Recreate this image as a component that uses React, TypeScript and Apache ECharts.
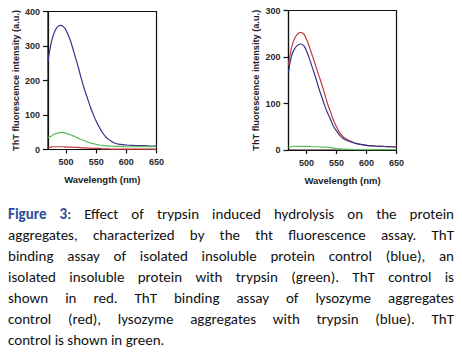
import React, { useEffect, useRef } from "react";
import * as echarts from "echarts";

const wavelengths = [470, 475, 480, 485, 490, 495, 500, 505, 510, 515, 520, 525, 530, 535, 540, 545, 550, 555, 560, 565, 570, 575, 580, 590, 600, 610, 620, 630, 640, 650];

// Left panel: isolated insoluble protein
const leftBlue = [255, 307, 337, 354, 360, 357, 345, 326, 300, 270, 240, 207, 177, 151, 125, 102, 82, 65, 50, 38, 30, 24, 19, 15, 13, 12, 11, 11, 10, 10];
const leftGreen = [34, 38, 44, 47, 49, 49, 47, 44, 41, 37, 33, 29, 26, 22, 19, 17, 15, 13, 12, 11, 10, 10, 9, 9, 8, 8, 8, 8, 8, 8];
const leftRed = [5, 7, 8, 8, 8, 8, 7, 7, 7, 6, 6, 5, 5, 4, 4, 3, 3, 3, 2, 2, 2, 1, 1, 1, 1, 1, 1, 1, 1, 1];

// Right panel: lysozyme aggregates
const rightRed = [182, 220, 239, 249, 253, 250, 238, 221, 202, 182, 162, 143, 122, 100, 82, 64, 50, 38, 30, 25, 21, 18, 15, 12, 10, 9, 8, 7.5, 7, 6.5];
const rightBlue = [167, 202, 217, 225, 228, 225, 213, 196, 176, 157, 135, 116, 97, 80, 66, 51, 41, 32, 26, 22, 19, 17, 15, 12, 10, 9, 8, 7.5, 7, 6.5];
const rightGreen = [6, 7, 8, 8, 8, 8, 8, 8, 7, 7, 7, 6, 6, 6, 5, 4, 3, 2.5, 2, 2, 1.5, 1.5, 1, 1, 1, 1, 1, 1, 1, 1];

const xTicks = [500, 550, 600, 650];
const leftYMax = 400;
const rightYMax = 300;
const yInterval = 100;

const xTitle = "Wavelength (nm)";
const yTitle = "ThT fluorescence intensity (a.u.)";

const captionLines = [
  "Effect of trypsin induced hydrolysis on the protein",
  "aggregates, characterized by the tht fluorescence assay. ThT",
  "binding assay of isolated insoluble protein control (blue), an",
  "isolated insoluble protein with trypsin (green). ThT control is",
  "shown in red. ThT binding assay of lysozyme aggregates",
  "control (red), lysozyme aggregates with trypsin (blue). ThT",
  "control is shown in green.",
];

const BLUE = "#33338c";
const RED = "#c23b3b";
const GREEN = "#5cbd5c";
const FONT = "'Liberation Sans', Arial, sans-serif";

const pair = (ys: number[]) => wavelengths.map((w, i) => [w, ys[i]]);

function xAxis(gridIndex: number) {
  return {
    type: "value",
    gridIndex,
    min: 470,
    max: 650,
    name: xTitle,
    nameLocation: "middle",
    nameGap: 25,
    nameTextStyle: { fontFamily: FONT, fontWeight: "bold", fontSize: 9.5, color: "#222" },
    axisLine: { show: true, lineStyle: { color: "#111", width: 1.2 } },
    axisTick: { show: true, length: 4, customValues: xTicks, lineStyle: { color: "#111", width: 1.2 } },
    axisLabel: { customValues: xTicks, fontFamily: FONT, fontWeight: "bold", fontSize: 9, color: "#2a2a2a", margin: 8 },
    splitLine: { show: false },
  };
}

function yAxis(gridIndex: number, max: number) {
  return {
    type: "value",
    gridIndex,
    min: 0,
    max,
    interval: yInterval,
    name: yTitle,
    nameLocation: "middle",
    nameGap: 28,
    nameTextStyle: { fontFamily: FONT, fontWeight: "bold", fontSize: 9.2, color: "#222" },
    axisLine: { show: true, lineStyle: { color: "#111", width: 1.2 } },
    axisTick: { show: true, length: 5, lineStyle: { color: "#111", width: 1.2 } },
    axisLabel: { fontFamily: FONT, fontWeight: "bold", fontSize: 9, color: "#2a2a2a", margin: 8 },
    splitLine: { show: false },
  };
}

function line(name: string, xi: number, ys: number[], color: string) {
  return {
    type: "line",
    name,
    xAxisIndex: xi,
    yAxisIndex: xi,
    data: pair(ys),
    smooth: true,
    showSymbol: false,
    lineStyle: { color, width: 1.2 },
    itemStyle: { color },
  };
}

export default function App() {
  const ref = useRef<HTMLDivElement>(null);
  useEffect(() => {
    if (!ref.current) return;
    const chart = echarts.init(ref.current, undefined, { renderer: "svg" });
    chart.setOption({
      animation: false,
      backgroundColor: "#fff",
      grid: [
        { left: 48, top: 11.5, width: 108.5, height: 138, show: true, borderColor: "#111", borderWidth: 1.2, containLabel: false },
        { left: 288.5, top: 10.5, width: 108, height: 139.5, show: true, borderColor: "#111", borderWidth: 1.2, containLabel: false },
      ],
      xAxis: [xAxis(0), xAxis(1)],
      yAxis: [yAxis(0, leftYMax), yAxis(1, rightYMax)],
      series: [
        line("Insoluble protein control", 0, leftBlue, BLUE),
        line("Insoluble protein + trypsin", 0, leftGreen, GREEN),
        line("ThT control", 0, leftRed, RED),
        line("Lysozyme aggregates control", 1, rightRed, RED),
        line("Lysozyme aggregates + trypsin", 1, rightBlue, BLUE),
        line("ThT control", 1, rightGreen, GREEN),
      ],
    });
    return () => chart.dispose();
  }, []);

  return (
    <div style={{ position: "absolute", left: 0, top: 0, width: 462, height: 352, background: "#fff", overflow: "hidden" }}>
      <div ref={ref} style={{ position: "absolute", left: 0, top: 0, width: 462, height: 195 }} />
      <div
        style={{
          position: "absolute",
          left: 8,
          top: 204,
          width: 446,
          fontFamily: "Carlito, Calibri, Lato, sans-serif",
          fontSize: 15,
          lineHeight: "21px",
          color: "#111",
        }}
      >
        {captionLines.map((t, i) => (
          <div
            key={i}
            style={{
              whiteSpace: "nowrap",
              textAlign: "justify",
              textAlignLast: i === captionLines.length - 1 ? "left" : "justify",
            }}
          >
            {i === 0 ? (
              <>
                <span style={{ color: "#2b4c9b", fontWeight: "bold" }}>Figure 3</span>: {t}
              </>
            ) : (
              t
            )}
          </div>
        ))}
      </div>
    </div>
  );
}
